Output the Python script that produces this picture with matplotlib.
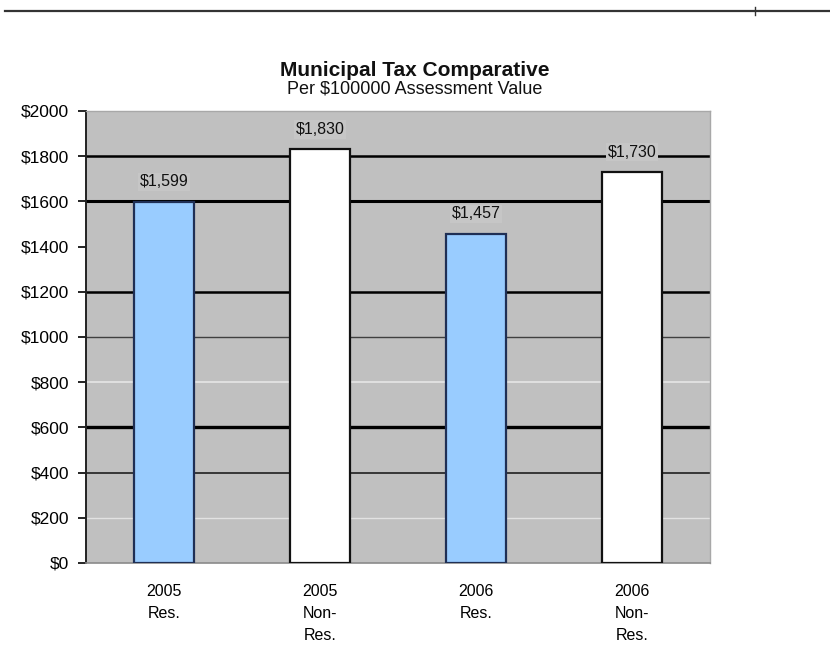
import matplotlib
matplotlib.use("Agg")
import matplotlib.pyplot as plt
from matplotlib.lines import Line2D
from matplotlib import font_manager

names = {f.name for f in font_manager.fontManager.ttflist}
FONT = ['Liberation Sans Narrow', 'Liberation Sans', 'DejaVu Sans']
FONT = [f for f in FONT if f in names] + ['DejaVu Sans']
plt.rcParams['font.family'] = FONT

categories = ["2005\nRes.", "2005\nNon-\nRes.", "2006\nRes.", "2006\nNon-\nRes."]
values = [1599, 1830, 1457, 1730]
value_labels = ["$1,599", "$1,830", "$1,457", "$1,730"]
y_ticks = [0, 200, 400, 600, 800, 1000, 1200, 1400, 1600, 1800, 2000]
y_tick_labels = ["$0", "$200", "$400", "$600", "$800", "$1000", "$1200",
                 "$1400", "$1600", "$1800", "$2000"]

bar_colors = ["#99ccff", "#ffffff", "#99ccff", "#ffffff"]
edge_colors = ["#1f2f55", "#111111", "#1f2f55", "#111111"]

fig = plt.figure(figsize=(8.3, 6.6), dpi=100)
ax = fig.add_axes([86/830, 1-563/660, 624/830, 452/660])
ax.set_facecolor("#c0c0c0")

# gridlines (drawn individually to mimic the varying print weight)
grid_style = {200: ("#e2e2e2", 1.0), 400: ("#202020", 1.2), 600: ("#000000", 2.4),
              800: ("#e6e6e6", 1.2), 1000: ("#404040", 1.0), 1200: ("#000000", 1.8),
              1400: (None, 0), 1600: ("#000000", 2.2), 1800: ("#000000", 1.8)}
for yv, (c, lw) in grid_style.items():
    if c:
        ax.axhline(yv, color=c, lw=lw, zorder=1)

x = list(range(len(categories)))
bars = ax.bar(x, values, width=0.39, color=bar_colors, edgecolor=edge_colors,
              linewidth=1.6, zorder=3)
for b, lab in zip(bars, value_labels):
    ax.text(b.get_x() + b.get_width()/2, b.get_height() + 88, lab,
            ha="center", va="center", fontsize=11.5, color="#111111", zorder=4,
            bbox=dict(boxstyle="square,pad=0.1", fc="#c6c6c6", ec="none"))

ax.set_xlim(-0.5, 3.5)
ax.set_ylim(0, 2000)
ax.set_yticks(y_ticks)
ax.set_yticklabels(y_tick_labels, fontsize=12.5)
ax.set_xticks(x)
ax.set_xticklabels(categories, fontsize=11.5, linespacing=1.6, va="top")
ax.tick_params(axis="x", length=0, pad=15)
ax.tick_params(axis="y", length=6, width=1.2, pad=6)

for s in ["top", "right"]:
    ax.spines[s].set_color("#a8a8a8")
    ax.spines[s].set_linewidth(1.0)
ax.spines["bottom"].set_color("#8a8a8a")
ax.spines["bottom"].set_linewidth(1.2)
ax.spines["left"].set_color("#222222")
ax.spines["left"].set_linewidth(1.4)

fig.text(0.5, 1-70/660, "Municipal Tax Comparative", ha="center", va="center",
         fontsize=15, fontweight="bold", color="#111111")
fig.text(0.5, 1-89/660, "Per $100000 Assessment Value", ha="center", va="center",
         fontsize=13, color="#111111")

# document rule line across the top
fig.add_artist(Line2D([5/830, 1.0], [1-11/660, 1-11/660], color="#333333", lw=1.6))
fig.add_artist(Line2D([755/830, 755/830], [1-7/660, 1-15/660], color="#333333", lw=1.0))

fig.savefig("out.png", dpi=100)
